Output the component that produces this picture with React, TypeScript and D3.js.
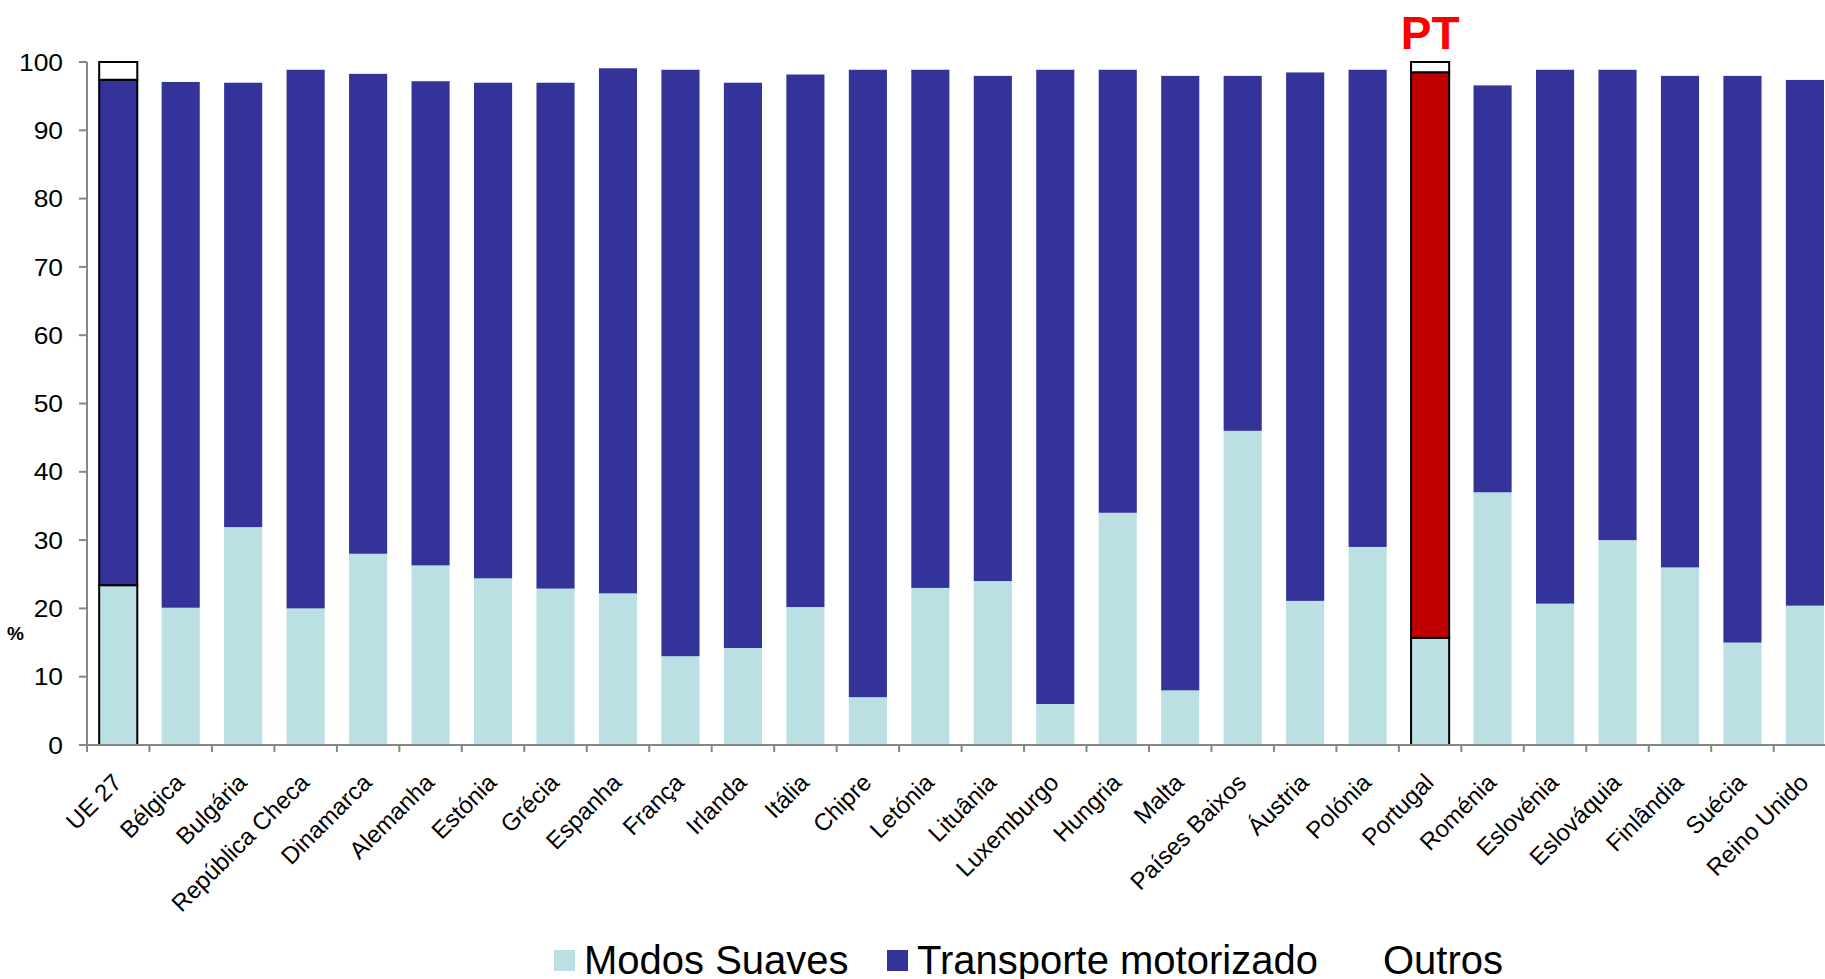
import * as d3 from 'd3';
import { useEffect, useRef } from 'react';

const categories = [
  'UE 27', 'Bélgica', 'Bulgária', 'República Checa', 'Dinamarca', 'Alemanha', 'Estónia',
  'Grécia', 'Espanha', 'França', 'Irlanda', 'Itália', 'Chipre', 'Letónia', 'Lituânia',
  'Luxemburgo', 'Hungria', 'Malta', 'Países Baixos', 'Áustria', 'Polónia', 'Portugal',
  'Roménia', 'Eslovénia', 'Eslováquia', 'Finlândia', 'Suécia', 'Reino Unido',
];
const modosSuaves = [
  23.4, 20.1, 31.9, 20.0, 28.0, 26.3, 24.4, 22.9, 22.2, 13.0, 14.2, 20.2, 7.0, 23.0,
  24.0, 6.0, 34.0, 8.0, 46.0, 21.1, 29.0, 15.7, 37.0, 20.7, 30.0, 26.0, 15.0, 20.4,
];
const transporteMotorizado = [
  74.0, 77.0, 65.1, 78.9, 70.3, 70.9, 72.6, 74.1, 76.9, 85.9, 82.8, 78.0, 91.9, 75.9,
  74.0, 92.9, 64.9, 90.0, 52.0, 77.4, 69.9, 82.8, 59.6, 78.2, 68.9, 72.0, 83.0, 77.0,
];
const outros = [
  2.6, 2.9, 3.0, 1.1, 1.7, 2.8, 3.0, 3.0, 0.9, 1.1, 3.0, 1.8, 1.1, 1.1,
  2.0, 1.1, 1.1, 2.0, 2.0, 1.5, 1.1, 1.5, 3.4, 1.1, 1.1, 2.0, 2.0, 2.6,
];
const yTicks = [0, 10, 20, 30, 40, 50, 60, 70, 80, 90, 100];
const seriesNames = ['Modos Suaves', 'Transporte motorizado', 'Outros'];

const W = 1825;
const H = 979;
const FONT = 'Arial, "Liberation Sans", sans-serif';
const colors = ['#BAE0E3', '#333399', '#FFFFFF'];
const AXIS = '#868686';

const Chart = () => {
  const ref = useRef<SVGSVGElement>(null);

  useEffect(() => {
    document.body.style.margin = '0';
    const svg = d3.select(ref.current);
    svg.selectAll('*').remove();

    const left = 87;
    const step = 62.47;
    const x = d3.scaleBand()
      .domain(categories)
      .range([left, left + step * categories.length])
      .paddingInner(0.39)
      .paddingOuter(0.195);

    const y = d3.scaleLinear().domain([0, 100]).range([745, 62]);

    const rows = categories.map((c, i) => ({
      cat: c,
      s0: modosSuaves[i],
      s1: transporteMotorizado[i],
      s2: outros[i],
    }));
    const stack = d3.stack<any>().keys(['s0', 's1', 's2'])(rows);

    // UE 27 and Portugal get a black outline
    const highlight = (c: string) => c === 'UE 27' || c === 'Portugal';

    stack.forEach((layer, li) => {
      svg.append('g')
        .selectAll('rect')
        .data(layer)
        .enter()
        .append('rect')
        .attr('x', d => x(d.data.cat)!)
        .attr('y', d => y(d[1]))
        .attr('width', x.bandwidth())
        .attr('height', d => y(d[0]) - y(d[1]))
        .attr('fill', d => (li === 1 && d.data.cat === 'Portugal' ? '#C00000' : colors[li]))
        .attr('stroke', d => (highlight(d.data.cat) ? '#000' : 'none'))
        .attr('stroke-width', 2);
    });

    // y axis
    const ya = svg.append('g');
    ya.append('line')
      .attr('x1', left).attr('x2', left)
      .attr('y1', y(0)).attr('y2', y(100))
      .attr('stroke', AXIS).attr('stroke-width', 2);
    ya.selectAll('line.t')
      .data(yTicks)
      .enter()
      .append('line')
      .attr('class', 't')
      .attr('x1', left - 8).attr('x2', left)
      .attr('y1', d => y(d)).attr('y2', d => y(d))
      .attr('stroke', AXIS).attr('stroke-width', 2);
    ya.selectAll('text')
      .data(yTicks)
      .enter()
      .append('text')
      .attr('transform', d => `translate(63,${y(d)}) scale(1.1,1)`)
      .attr('dy', '0.36em')
      .attr('text-anchor', 'end')
      .style('font-family', FONT)
      .style('font-size', '24px')
      .text(d => d);

    svg.append('text')
      .attr('x', 7).attr('y', 640)
      .style('font-family', FONT)
      .style('font-size', '19px')
      .style('font-weight', 'bold')
      .text('%');

    // x axis
    const xa = svg.append('g');
    xa.append('line')
      .attr('x1', left).attr('x2', W)
      .attr('y1', y(0)).attr('y2', y(0))
      .attr('stroke', AXIS).attr('stroke-width', 2);
    xa.selectAll('line.t')
      .data(d3.range(categories.length + 1))
      .enter()
      .append('line')
      .attr('class', 't')
      .attr('x1', i => left + i * x.step()).attr('x2', i => left + i * x.step())
      .attr('y1', y(0)).attr('y2', y(0) + 7)
      .attr('stroke', AXIS).attr('stroke-width', 2);
    xa.selectAll('text')
      .data(categories)
      .enter()
      .append('text')
      .attr('transform', d => `translate(${x(d)! + x.bandwidth() / 2 + 5},${784}) rotate(-45)`)
      .attr('text-anchor', 'end')
      .style('font-family', FONT)
      .style('font-size', '24px')
      .text(d => d);

    // PT label
    svg.append('text')
      .attr('x', x('Portugal')! + x.bandwidth() / 2)
      .attr('y', 49)
      .attr('text-anchor', 'middle')
      .style('font-family', FONT)
      .style('font-size', '46px')
      .style('font-weight', 'bold')
      .attr('fill', '#FF0000')
      .text('PT');

    // legend
    const legendX = [554, 887, 1353];
    const lg = svg.append('g');
    seriesNames.forEach((name, i) => {
      lg.append('rect')
        .attr('x', legendX[i]).attr('y', 950)
        .attr('width', 21).attr('height', 21)
        .attr('fill', colors[i]);
      lg.append('text')
        .attr('x', legendX[i] + 30)
        .attr('y', 974)
        .style('font-family', FONT)
        .style('font-size', '40px')
        .text(name);
    });

    return () => {
      svg.selectAll('*').remove();
    };
  }, []);

  return <svg ref={ref} width={W} height={H} style={{ display: 'block', background: '#fff' }} />;
};

export default function App() {
  return <Chart />;
}
